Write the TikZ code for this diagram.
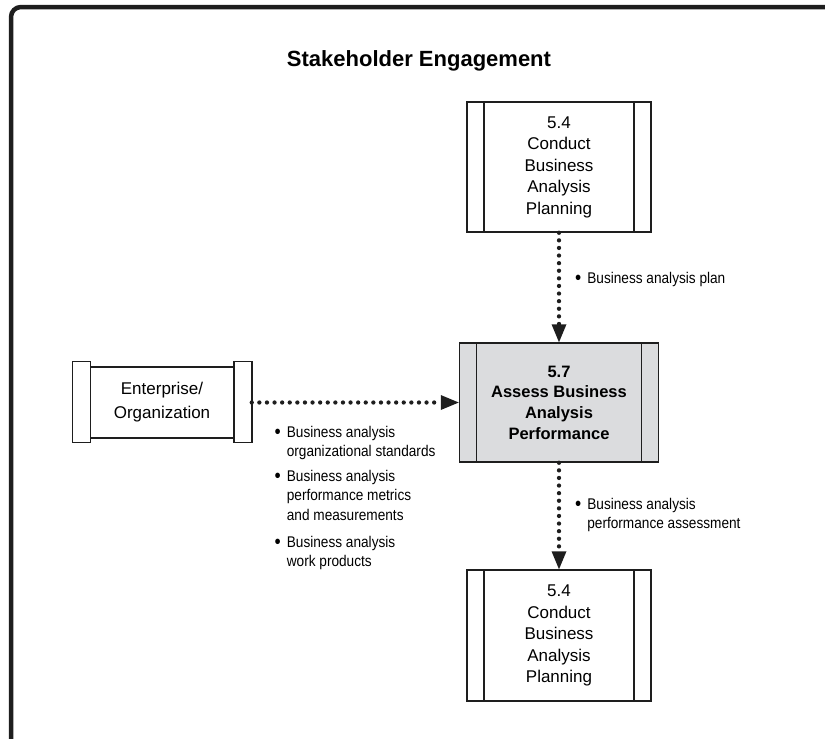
\documentclass[tikz,border=0pt]{standalone}
\usepackage{fontspec}
\setmainfont{Liberation Sans}
\newfontfamily\notefont[FakeStretch=0.88]{Liberation Sans}
\usepackage{tikz}
\usetikzlibrary{arrows.meta,calc,positioning}
\definecolor{PanelGray}{HTML}{DBDCDE}
\definecolor{InkBlack}{HTML}{1E1E1E}

\newcommand{\bulitem}[1]{\begin{tabular}[t]{@{}l@{\hspace{6pt}}l@{}}\raisebox{-1.2pt}{\fontsize{20}{20}\selectfont\textbullet}&\begin{tabular}[t]{@{}l@{}}#1\end{tabular}\end{tabular}}

\tikzset{
  boxline/.style={draw=InkBlack,line width=1.5pt},
  procbox/.style={boxline,rectangle,inner sep=0pt,align=center,
    minimum width=184pt,minimum height=130pt,
    font=\fontsize{17}{21.5}\selectfont,
    path picture={\draw[boxline]
      ([xshift=17pt]path picture bounding box.north west)--([xshift=17pt]path picture bounding box.south west)
      ([xshift=-17pt]path picture bounding box.north east)--([xshift=-17pt]path picture bounding box.south east);}},
  note/.style={anchor=base west,inner sep=0pt,font=\notefont\fontsize{15.5}{19.5}\selectfont},
  flow/.style={draw=InkBlack,line width=4.3pt,dash pattern=on 0pt off 7.6pt,line cap=round,
    -{Triangle[length=18pt,width=15pt,line width=0pt]}}
}

\begin{document}
\begin{tikzpicture}[x=1pt,y=-1pt]
\useasboundingbox (0,0) rectangle (825,739);
% outer frame
\draw[draw=InkBlack,line width=4.5pt,rounded corners=10pt] (11,739)--(11,7)--(825,7);
\node[font=\bfseries\fontsize{22}{26}\selectfont,anchor=base] (title) at (419,66) {Stakeholder Engagement};

% task boxes
\node[procbox] (plantop) at (559,167) {5.4\\Conduct\\Business\\Analysis\\Planning};
\node[procbox,fill=PanelGray,minimum width=199pt,minimum height=119pt,
  font=\bfseries\fontsize{16.5}{20.7}\selectfont] (assess) at (559,402.5)
  {5.7\\Assess Business\\Analysis\\Performance};
\node[procbox,minimum height=131pt] (planbot) at (559,635.5) {5.4\\Conduct\\Business\\Analysis\\Planning};

% enterprise scroll
\node[boxline,inner sep=0pt,minimum width=178pt,minimum height=71pt,align=center,
  font=\fontsize{17}{24}\selectfont] (ent) at (162,402.5) {Enterprise/\\Organization};
\draw[boxline,fill=white] (ent.north west) ++(0,-5) rectangle ++(18,81);
\draw[boxline,fill=white] (ent.north east) ++(0,-5) rectangle ++(-18,81);

% connectors
\draw[flow] (plantop.south) -- (assess.north);
\draw[flow] (ent.east) -- (assess.west);
\draw[flow] (assess.south) -- (planbot.north);

% labels
\node[note] (baplan) at (575,283) {\bulitem{Business analysis plan}};
\node[note] (perfassess) at (575,509) {\bulitem{Business analysis\\performance assessment}};
\node[note] (orgstd) at (274.5,437) {\bulitem{Business analysis\\organizational standards}};
\node[note] (perfmet) at (274.5,481) {\bulitem{Business analysis\\performance metrics\\and measurements}};
\node[note] (workprod) at (274.5,547) {\bulitem{Business analysis\\work products}};
\end{tikzpicture}
\end{document}
